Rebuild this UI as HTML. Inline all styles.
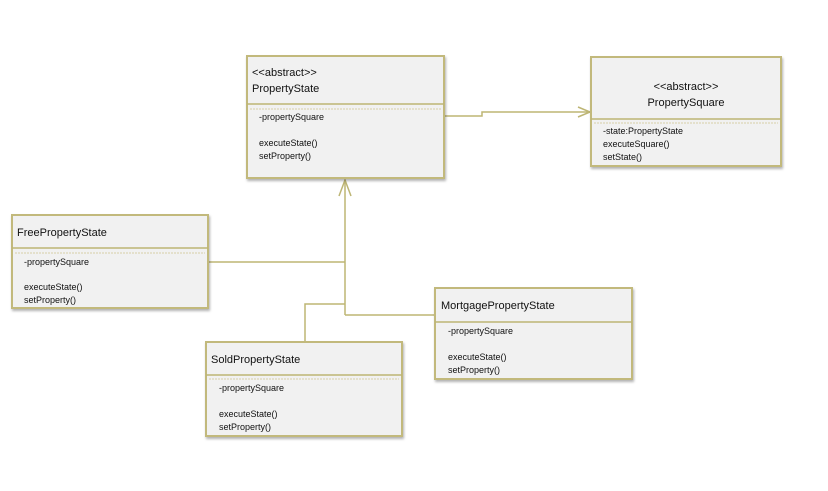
<!DOCTYPE html>
<html><head><meta charset="utf-8"><style>
html,body{margin:0;padding:0;background:#fff;}
svg{display:block;font-family:"Liberation Sans",sans-serif;}
.b{fill:#f1f1f1;stroke:#c2b97c;stroke-width:2;}
.l{stroke:#bdb574;stroke-width:1.5;fill:none;}
.d{stroke:#d6d0a8;stroke-width:1;stroke-dasharray:2,1;}
.n{font-size:11px;fill:#111;}
.m{font-size:9px;fill:#111;}
</style></head><body>
<svg width="828" height="491" viewBox="0 0 828 491">
<defs><filter id="s" x="-5%" y="-5%" width="115%" height="115%"><feDropShadow dx="1" dy="2" stdDeviation="1.2" flood-color="#000" flood-opacity="0.3"/></filter></defs>
<!-- connectors -->
<polyline class="l" points="444,116 482,116 482,112 590,112"/>
<polyline class="l" points="578,107 590,112 578,117"/>
<line class="l" x1="345" y1="180" x2="345" y2="315"/>
<polyline class="l" points="339,196 345,180 351,196"/>
<polyline class="l" points="208,262 345,262"/>
<polyline class="l" points="305,342 305,304 345,304"/>
<polyline class="l" points="345,315 435,315"/>
<!-- PropertyState -->
<g filter="url(#s)"><rect class="b" x="247" y="56" width="197" height="122"/></g>
<line class="l" x1="247" y1="104" x2="444" y2="104"/>
<line class="d" x1="250" y1="109" x2="441" y2="109"/>
<text class="n" x="252" y="76">&lt;&lt;abstract&gt;&gt;</text>
<text class="n" x="252" y="92">PropertyState</text>
<text class="m" x="259" y="120">-propertySquare</text>
<text class="m" x="259" y="146">executeState()</text>
<text class="m" x="259" y="159">setProperty()</text>
<!-- PropertySquare -->
<g filter="url(#s)"><rect class="b" x="591" y="57" width="190" height="109"/></g>
<line class="l" x1="591" y1="119" x2="781" y2="119"/>
<line class="d" x1="594" y1="123" x2="778" y2="123"/>
<text class="n" x="686" y="90" text-anchor="middle">&lt;&lt;abstract&gt;&gt;</text>
<text class="n" x="686" y="106" text-anchor="middle">PropertySquare</text>
<text class="m" x="603" y="134">-state:PropertyState</text>
<text class="m" x="603" y="147">executeSquare()</text>
<text class="m" x="603" y="160">setState()</text>
<!-- Free -->
<g filter="url(#s)"><rect class="b" x="12" y="215" width="196" height="93"/></g>
<line class="l" x1="12" y1="248" x2="208" y2="248"/>
<line class="d" x1="15" y1="253" x2="205" y2="253"/>
<text class="n" x="17" y="236">FreePropertyState</text>
<text class="m" x="24" y="265">-propertySquare</text>
<text class="m" x="24" y="290">executeState()</text>
<text class="m" x="24" y="303">setProperty()</text>
<!-- Sold -->
<g filter="url(#s)"><rect class="b" x="206" y="342" width="196" height="94"/></g>
<line class="l" x1="206" y1="375" x2="402" y2="375"/>
<line class="d" x1="209" y1="379" x2="399" y2="379"/>
<text class="n" x="211" y="363">SoldPropertyState</text>
<text class="m" x="219" y="391">-propertySquare</text>
<text class="m" x="219" y="417">executeState()</text>
<text class="m" x="219" y="430">setProperty()</text>
<!-- Mortgage -->
<g filter="url(#s)"><rect class="b" x="435" y="288" width="197" height="91"/></g>
<line class="l" x1="435" y1="322" x2="632" y2="322"/>
<text class="n" x="441" y="309">MortgagePropertyState</text>
<text class="m" x="448" y="334">-propertySquare</text>
<text class="m" x="448" y="360">executeState()</text>
<text class="m" x="448" y="373">setProperty()</text>
</svg>
</body></html>
